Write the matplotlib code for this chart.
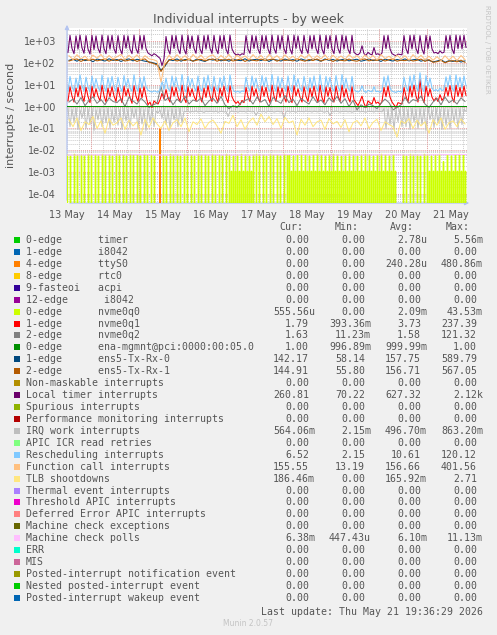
import numpy as np
import matplotlib.pyplot as plt
from matplotlib.patches import Rectangle

W, H = 497, 635

# ---- legend table -------------------------------------------------------
NAMES = [
    "0-edge      timer", "1-edge      i8042", "4-edge      ttyS0",
    "8-edge      rtc0", "9-fasteoi   acpi", "12-edge      i8042",
    "0-edge      nvme0q0", "1-edge      nvme0q1", "2-edge      nvme0q2",
    "0-edge      ena-mgmnt@pci:0000:00:05.0", "1-edge      ens5-Tx-Rx-0",
    "2-edge      ens5-Tx-Rx-1", "Non-maskable interrupts",
    "Local timer interrupts", "Spurious interrupts",
    "Performance monitoring interrupts", "IRQ work interrupts",
    "APIC ICR read retries", "Rescheduling interrupts",
    "Function call interrupts", "TLB shootdowns", "Thermal event interrupts",
    "Threshold APIC interrupts", "Deferred Error APIC interrupts",
    "Machine check exceptions", "Machine check polls", "ERR", "MIS",
    "Posted-interrupt notification event", "Nested posted-interrupt event",
    "Posted-interrupt wakeup event",
]
COLORS = [
    "#00CC00", "#0066B3", "#FF8000", "#FFCC00", "#330099", "#990099",
    "#CCFF00", "#FF0000", "#808080", "#008F00", "#00487D", "#B35A00",
    "#B38F00", "#6B006B", "#8FB300", "#B30000", "#BEBEBE", "#80FF80",
    "#80C9FF", "#FFC080", "#FFE680", "#AA80FF", "#EE00CC", "#FF8080",
    "#666600", "#FFBFFF", "#00FFCC", "#CC6699", "#999900", "#00CC00",
    "#0066B3",
]
CUR = ["0.00", "0.00", "0.00", "0.00", "0.00", "0.00", "555.56u", "1.79",
       "1.63", "1.00", "142.17", "144.91", "0.00", "260.81", "0.00", "0.00",
       "564.06m", "0.00", "6.52", "155.55", "186.46m", "0.00", "0.00",
       "0.00", "0.00", "6.38m", "0.00", "0.00", "0.00", "0.00", "0.00"]
MIN = ["0.00", "0.00", "0.00", "0.00", "0.00", "0.00", "0.00", "393.36m",
       "11.23m", "996.89m", "58.14", "55.80", "0.00", "70.22", "0.00",
       "0.00", "2.15m", "0.00", "2.15", "13.19", "0.00", "0.00", "0.00",
       "0.00", "0.00", "447.43u", "0.00", "0.00", "0.00", "0.00", "0.00"]
AVG = ["2.78u", "0.00", "240.28u", "0.00", "0.00", "0.00", "2.09m", "3.73",
       "1.58", "999.99m", "157.75", "156.71", "0.00", "627.32", "0.00",
       "0.00", "496.70m", "0.00", "10.61", "156.66", "165.92m", "0.00",
       "0.00", "0.00", "0.00", "6.10m", "0.00", "0.00", "0.00", "0.00", "0.00"]
MAX = ["5.56m", "0.00", "480.86m", "0.00", "0.00", "0.00", "43.53m",
       "237.39", "121.32", "1.00", "589.79", "567.05", "0.00", "2.12k",
       "0.00", "0.00", "863.20m", "0.00", "120.12", "401.56", "2.71", "0.00",
       "0.00", "0.00", "0.00", "11.13m", "0.00", "0.00", "0.00", "0.00", "0.00"]

DAY_LABELS = ["13 May", "14 May", "15 May", "16 May", "17 May", "18 May",
              "19 May", "20 May", "21 May"]

# ---- series (hourly samples unless noted) -------------------------------
LOC = [
    300, 1800, 450, 260, 1700, 420, 1850, 480, 270, 1750, 430, 250, 1800, 400, 1700, 460, 280, 1850, 450, 260, 1750, 420, 1800, 430,
    270, 1750, 430, 250, 1800, 460, 1700, 420, 260, 1850, 440, 270, 1750, 410, 1800, 450, 280, 240, 210, 260, 230, 190, 160, 75,
    150, 1600, 420, 250, 1800, 450, 1750, 430, 260, 1850, 420, 250, 1800, 440, 1700, 460, 270, 1800, 430, 260, 1750, 420, 1850, 450,
    270, 1800, 430, 260, 1750, 440, 1800, 420, 250, 1850, 430, 280, 230, 250, 220, 260, 240, 1750, 430, 270, 1800, 450, 1700, 420,
    260, 1800, 440, 1750, 430, 250, 1850, 450, 270, 1800, 420, 1750, 440, 260, 1800, 430, 250, 1850, 450, 1700, 430, 260, 1800, 440,
    270, 1750, 430, 1800, 450, 260, 1850, 420, 250, 1800, 440, 1750, 430, 260, 1800, 450, 270, 1850, 430, 1700, 420, 260, 1800, 300,
    250, 230, 280, 600, 260, 220, 300, 250, 230, 500, 240, 260, 220, 280, 1750, 440, 1800, 430, 260, 230, 210, 250, 240, 230,
    1750, 440, 260, 1800, 430, 1850, 450, 260, 1750, 420, 250, 1800, 440, 1700, 430, 280, 300, 260, 350, 280, 300, 1750, 450, 1800,
    430, 260, 1850, 440, 1750, 430, 1800, 500,
]
RES = [
    5, 24, 8, 5, 20, 7, 28, 9, 5, 22, 8, 4.5, 25, 7, 19, 8, 5, 27, 8, 5, 21, 7, 24, 8,
    5, 22, 8, 4.8, 26, 8, 19, 7, 5, 28, 8, 5, 21, 7, 24, 8, 5.5, 5, 4.6, 5.2, 4.8, 4.5, 6, 14,
    6, 20, 7, 5, 25, 8, 22, 8, 5, 29, 7, 4.6, 24, 8, 19, 8, 5, 25, 7, 5, 22, 7, 27, 8,
    5, 24, 7, 5, 21, 8, 25, 7, 4.7, 28, 8, 5, 4.6, 5, 4.4, 5.2, 4.8, 22, 8, 5, 25, 8, 20, 7,
    5, 26, 8, 22, 7, 4.8, 29, 8, 5, 24, 7, 21, 8, 5, 25, 7, 4.6, 28, 8, 19, 7, 5, 24, 8,
    5, 21, 7, 25, 8, 5, 28, 7, 4.6, 24, 8, 22, 7, 5, 26, 8, 5, 29, 7, 20, 7, 5, 24, 6,
    5, 4.6, 5.2, 9, 5, 4.4, 5.5, 5, 4.7, 8, 4.8, 5, 4.5, 5.3, 23, 8, 26, 7, 5, 4.7, 4.4, 5, 4.8, 4.6,
    22, 8, 5, 25, 7, 28, 8, 5, 35, 7, 4.8, 26, 8, 20, 7, 5.2, 6, 5, 7, 5.4, 6, 23, 8, 27,
    7, 5, 28, 8, 22, 7, 25, 9,
]
NVME0Q1 = [
    1.8, 8, 3, 1.6, 7, 2.8, 9, 3.2, 1.7, 7.5, 2.9, 1.5, 8.5, 2.6, 6.5, 3, 1.8, 9.5, 3.1, 1.6, 7, 2.7, 8, 3,
    1.7, 7.5, 2.8, 1.5, 8.5, 3, 6.5, 2.6, 1.4, 9, 3, 1.7, 7, 2.5, 8, 3.1, 1.2, 1.6, 0.9, 1.8, 1.5, 1.3, 2, 4,
    2.2, 6, 2.5, 1.6, 8, 3, 7.5, 2.8, 1.7, 9.5, 2.6, 1.5, 8, 2.9, 6.5, 3, 1.8, 8.5, 2.7, 1.6, 7, 2.6, 9, 3,
    1.7, 8, 2.7, 1.6, 7, 2.9, 8.5, 2.6, 1.5, 9, 2.8, 1.8, 1.4, 1.7, 1.2, 1.9, 1.5, 7.5, 2.8, 1.7, 8.5, 3, 6.5, 2.6,
    1.6, 8.5, 2.9, 7.5, 2.7, 1.5, 9.5, 3, 1.7, 8, 2.6, 7, 2.9, 1.6, 8.5, 2.7, 1.5, 9, 3, 6.5, 2.7, 1.6, 8, 2.9,
    1.7, 7, 2.7, 8.5, 3, 1.6, 9.5, 2.6, 1.5, 8, 2.9, 7.5, 2.7, 1.6, 8.5, 3, 1.7, 9.5, 2.7, 6.5, 2.6, 1.6, 8, 2,
    1.5, 1.1, 1.7, 3, 1.4, 0.9, 1.8, 1.5, 1.3, 2.6, 1.4, 1.6, 1.2, 1.7, 7.5, 2.8, 8.5, 2.7, 1.6, 1.2, 0.9, 1.5, 1.4, 1.3,
    7.5, 2.9, 1.6, 8.5, 2.7, 9.5, 3, 1.6, 18, 2.6, 1.5, 8.5, 2.9, 6.5, 2.7, 1.8, 2.5, 1.7, 3.5, 1.9, 2.6, 7.5, 3, 9,
    2.7, 1.6, 9.5, 2.9, 7.5, 2.7, 8.5, 3.2,
]
IWI = [
    0.8, 0.12, 0.75, 0.2, 0.85, 0.09, 0.7, 0.3, 0.8, 0.1, 0.78, 0.15, 0.82, 0.08, 0.7, 0.25, 0.8, 0.12, 0.76, 0.18, 0.84, 0.1, 0.72, 0.2,
    0.8, 0.14, 0.74, 0.09, 0.86, 0.22, 0.7, 0.11, 0.8, 0.3, 0.77, 0.1, 0.83, 0.16, 0.72, 0.08, 0.8, 0.2, 0.75, 0.12, 0.62, 0.5, 0.7, 0.3,
    0.82, 0.15, 0.7, 0.1, 0.8, 0.25, 0.76, 0.12, 0.84, 0.18, 0.6, 0.58, 0.62, 0.55, 0.6, 0.57, 0.63, 0.56, 0.6, 0.59, 0.54, 0.61, 0.58, 0.6,
    0.6, 0.57, 0.62, 0.55, 0.59, 0.61, 0.56, 0.6, 0.35, 0.58, 0.62, 0.57, 0.6, 0.55, 0.61, 0.58, 0.6, 0.56, 0.62, 0.59, 0.57, 0.6, 0.4, 0.58,
    0.61, 0.57, 0.6, 0.55, 0.62, 0.58, 0.6, 0.56, 0.59, 0.61, 0.57, 0.6, 0.3, 0.58, 0.62, 0.56, 0.6, 0.59, 0.55, 0.61, 0.58, 0.6, 0.57, 0.62,
    0.58, 0.6, 0.56, 0.61, 0.59, 0.57, 0.62, 0.6, 0.55, 0.58, 0.61, 0.38, 0.6, 0.57, 0.62, 0.59, 0.56, 0.6, 0.58, 0.61, 0.57, 0.6, 0.55, 0.59,
    0.6, 0.62, 0.57, 0.6, 0.58, 0.55, 0.61, 0.59, 0.6, 0.56, 0.62, 0.58, 0.6, 0.57, 0.8, 0.1, 0.75, 0.15, 0.82, 0.09, 0.7, 0.2, 0.78, 0.12,
    0.8, 0.12, 0.75, 0.09, 0.84, 0.2, 0.72, 0.1, 0.8, 0.15, 0.78, 0.08, 0.85, 0.25, 0.7, 0.11, 0.82, 0.18, 0.76, 0.09, 0.8, 0.14, 0.73, 0.1,
    0.83, 0.2, 0.76, 0.1, 0.8, 0.15, 0.74, 0.6,
]
# nvme0q0, half-hour samples, in milli-interrupts per second
NVME0Q0_M = [
    6, 0, 0, 5.5, 0, 0, 0, 6.5, 0, 0, 6, 0, 0, 0, 6, 0, 0, 5.5, 0, 0,
    0, 6.5, 0, 0, 6, 0, 0, 0, 6, 0, 0, 5.5, 0, 0, 0, 6.5, 0, 0, 6, 0,
    0, 0, 6, 0, 0, 5.5, 0, 0, 0, 6.5, 0, 0, 6, 0, 0, 0, 6, 0, 0, 5.5,
    0, 0, 0, 6.5, 0, 0, 6, 0, 0, 0, 6, 0, 0, 5.5, 0, 0, 0, 6.5, 0, 0,
    6, 0, 0, 0, 6, 0, 0, 5.5, 0, 0, 0, 0, 0, 0, 0, 0, 6, 0, 0, 5.5,
    0, 0, 0, 6.5, 0, 0, 6, 0, 0, 0, 6, 0, 0, 5.5, 0, 0, 0, 6.5, 0, 0,
    6, 0, 0, 0, 6, 0, 0, 5.5, 0, 0, 0, 6.5, 0, 0, 6, 0, 0, 0, 6, 0,
    0, 5.5, 0, 0, 0, 6.5, 0, 0, 6, 0, 0, 0, 6, 0, 0, 5.5, 0, 0, 0, 6.5,
    0, 0, 6, 0, 1.1, 0, 5.5, 0, 1.1, 0, 6, 0, 1.1, 0, 6.5, 0, 1.1, 0, 6, 0,
    1.1, 0, 5.5, 0, 1.1, 0, 6, 0, 0, 6.5, 0, 0, 6, 0, 0, 0, 6, 0, 0, 5.5,
    0, 0, 0, 6.5, 0, 0, 6, 0, 0, 0, 6, 0, 0, 5.5, 0, 0, 0, 6.5, 0, 0,
    6, 0, 6, 0, 1.1, 0, 5.5, 0, 1.1, 0, 6, 0, 1.1, 0, 6.5, 0, 1.1, 0, 6, 0,
    1.1, 0, 5.5, 0, 1.1, 0, 6, 0, 1.1, 0, 6.5, 0, 1.1, 0, 6, 0, 1.1, 0, 5.5, 0,
    1.1, 0, 6, 0, 1.1, 0, 6.5, 0, 1.1, 0, 6, 0, 1.1, 0, 5.5, 0, 1.1, 0, 6, 0,
    1.1, 0, 6.5, 0, 1.1, 0, 6, 0, 1.1, 0, 5.5, 0, 1.1, 0, 6, 0, 1.1, 0, 6.5, 0,
    1.1, 0, 6, 0, 1.1, 0, 5.5, 0, 1.1, 0, 6, 0, 1.1, 0, 6.5, 0, 1.1, 0, 6, 0,
    1.1, 0, 5.5, 0, 1.1, 0, 6, 0, 1.1, 0, 0, 0, 0, 0, 0, 0, 6, 0, 0, 5.5,
    0, 0, 0, 6.5, 0, 0, 6, 0, 0, 0, 6, 0, 0, 5.5, 0, 0, 0, 6.5, 0, 0,
    6, 0, 1.1, 0, 5.5, 0, 1.1, 0, 6, 0, 1.1, 0, 6.5, 0, 1.1, 0, 3, 0, 1.1, 0,
    6, 0, 1.1, 0, 5.5, 0, 1.1, 0, 6, 0, 1.1, 0, 6.5, 0, 1.1, 0, 6, 0, 1.1, 0,
]
# two-hour samples
NVME0Q2 = [
    1.6, 2.2, 1.3, 2.6, 1.1, 1.9, 2.8, 1.4, 2.1, 1.2, 2.5, 1.7,
    1.5, 2.3, 1.0, 2.7, 1.8, 1.3, 2.4, 1.6, 0.9, 1.2, 1.4, 8.0,
    1.9, 2.6, 1.2, 2.2, 1.5, 3.0, 1.3, 2.0, 1.7, 2.5, 1.1, 1.8,
    2.4, 1.4, 2.9, 1.2, 0.8, 1.1, 0.9, 1.5, 1.9, 2.3, 1.3, 2.7,
    1.6, 2.1, 1.0, 2.6, 1.8, 1.4, 3.2, 1.5, 2.2, 1.1, 2.4, 1.7,
    1.3, 2.8, 1.5, 2.0, 1.2, 2.5, 1.6, 2.9, 1.4, 2.3, 1.0, 1.9,
    0.7, 1.2, 0.9, 1.3, 1.1, 0.8, 1.4, 2.2, 1.5, 0.7, 0.9, 1.2,
    2.6, 1.4, 2.1, 1.8, 3.0, 1.3, 0.9, 1.6, 2.4, 1.2, 2.7, 1.5,
    2.0, 1.3, 2.5, 1.7,
]
TLB = [
    0.25, 0.12, 0.3, 0.08, 0.2, 0.15, 0.35, 0.1, 0.22, 0.06, 0.28, 0.14,
    0.18, 0.3, 0.09, 0.24, 0.13, 0.2, 0.05, 0.26, 0.11, 0.3, 0.16, 0.1,
    0.22, 0.08, 0.18, 0.25, 0.12, 0.3, 0.07, 0.2, 0.15, 0.27, 0.1, 0.19,
    0.24, 0.13, 0.06, 0.21, 0.17, 0.4, 0.12, 0.25, 0.09, 0.2, 0.3, 0.14,
    0.45, 0.2, 0.35, 0.15, 0.28, 0.1, 0.32, 0.18, 0.22, 0.05, 0.26, 0.14,
    0.3, 0.12, 0.2, 0.24, 0.09, 0.28, 0.16, 0.21, 0.11, 0.25, 0.07, 0.18,
    0.23, 0.13, 0.3, 0.1, 0.19, 0.26, 0.08, 0.2, 0.15, 0.12, 0.04, 0.22,
    0.17, 0.28, 0.1, 0.24, 0.13, 0.2, 0.06, 0.25, 0.14, 0.3, 0.09, 0.18,
    0.22, 0.12, 0.27, 0.16,
]
CAL = [
    210, 140, 235, 150, 200, 130, 225, 160, 240, 135, 215, 150,
    190, 240, 140, 220, 150, 230, 135, 210, 150, 140, 120, 13,
    110, 220, 140, 235, 150, 210, 130, 240, 155, 220, 140, 200,
    230, 140, 215, 150, 240, 135, 220, 160, 205, 140, 235, 150,
    215, 130, 240, 155, 210, 140, 230, 150, 200, 135, 225, 160,
    240, 140, 210, 150, 230, 135, 220, 150, 205, 140, 235, 160,
    210, 140, 230, 150, 215, 135, 240, 155, 200, 140, 225, 150,
    210, 130, 235, 150, 220, 140, 200, 130, 190, 125, 210, 135,
    200, 125, 215, 140,
]
TX0 = [
    130, 145, 118, 150, 125, 140, 112, 148, 135, 120, 152, 128,
    142, 115, 138, 150, 122, 145, 130, 118, 110, 100, 90, 45,
    70, 140, 125, 150, 118, 142, 135, 120, 148, 128, 115, 145,
    132, 150, 122, 140, 118, 146, 130, 125, 152, 120, 138, 144,
    126, 150, 115, 142, 134, 120, 148, 128, 140, 118, 150, 132,
    124, 146, 136, 118, 150, 128, 142, 120, 138, 148, 122, 135,
    145, 118, 130, 150, 125, 140, 115, 148, 132, 120, 142, 128,
    150, 122, 138, 145, 118, 135, 128, 110, 120, 140, 105, 125,
    115, 130, 108, 122,
]
TX1 = [
    120, 138, 150, 115, 142, 128, 146, 122, 135, 150, 118, 140,
    126, 148, 120, 132, 145, 115, 138, 150, 105, 95, 80, 40,
    80, 130, 148, 120, 140, 126, 150, 118, 132, 145, 122, 138,
    150, 118, 140, 128, 146, 120, 135, 150, 115, 142, 130, 122,
    148, 125, 138, 150, 118, 144, 128, 136, 120, 150, 132, 118,
    142, 126, 150, 120, 138, 145, 115, 140, 130, 122, 148, 126,
    118, 140, 150, 122, 136, 128, 146, 120, 138, 150, 118, 132,
    125, 142, 120, 130, 148, 115, 140, 105, 112, 128, 100, 118,
    125, 110, 132, 105,
]
# sparse / nearly flat series (hours, values)
TIMER_T = [46.0, 46.5, 47.0]
TIMER = [0.0, 1.1e-3, 0.0]
TTY_T = [46.0, 46.5, 47.0]
TTYS0 = [0.0, 0.096, 0.0]
ENA_T = [0, 25, 50, 75, 100, 125, 150, 175, 200]
ENA = [1.0, 1.0, 0.997, 1.0, 1.0, 1.0, 1.0, 1.0, 1.0]
MCP_T = [0, 12.5, 25, 37.5, 50, 62.5, 75, 87.5, 100, 112.5, 125, 137.5,
         150, 162.5, 175, 187.5, 200]
MCP = [6.0e-3, 6.2e-3, 6.1e-3, 6.3e-3, 6.0e-3, 6.1e-3, 6.2e-3, 6.0e-3,
       6.1e-3, 6.3e-3, 6.2e-3, 6.0e-3, 6.1e-3, 6.2e-3, 6.0e-3, 6.3e-3, 6.4e-3]

TEXT = "#555555"


def fx(px):
    return px / W


def fy(py):
    return 1 - py / H


fig = plt.figure(figsize=(W / 100, H / 100), dpi=100, facecolor="#F0F0F0")
ax = fig.add_axes([fx(67), fy(203), (467 - 67) / W, (203 - 28) / H])
ax.set_facecolor("white")
ax.set_yscale("log", nonpositive="clip")
ax.set_xlim(0, 200)
ax.set_ylim(10 ** -4.41, 10 ** 3.59)

t_half = np.arange(len(NVME0Q0_M)) * 0.5 + 0.25
t1 = np.arange(len(LOC)) + 0.5
t2 = np.arange(len(CAL)) * 2 + 1.0
series = [
    (0, TIMER_T, TIMER),
    (2, TTY_T, TTYS0),
    (6, t_half, np.array(NVME0Q0_M) * 1e-3),
    (7, t1, NVME0Q1),
    (8, t2, NVME0Q2),
    (9, ENA_T, ENA),
    (10, t2, TX0),
    (11, t2, TX1),
    (13, t1, LOC),
    (16, t1, IWI),
    (18, t1, RES),
    (19, t2, CAL),
    (20, t2, TLB),
    (25, MCP_T, MCP),
]
for z, (idx, t, v) in enumerate(series):
    # the zero-heavy queue series shows as slightly thicker vertical strokes
    lw = 1.0 if idx == 6 else 0.75
    ax.plot(t, v, color=COLORS[idx], lw=lw, zorder=3 + z)

# grid
dot = (0, (1, 1))
ax.set_yticks([10.0 ** e for e in range(-4, 4)],
              ["1e-04", "1e-03", "1e-02", "1e-01", "1e+00", "1e+01", "1e+02", "1e+03"])
ax.yaxis.set_minor_locator(plt.matplotlib.ticker.LogLocator(subs=np.arange(2, 10), numticks=20))
ax.yaxis.set_minor_formatter(plt.NullFormatter())
ax.set_xticks(np.arange(0, 200, 24), DAY_LABELS)
ax.set_xticks(np.arange(0, 200, 6), minor=True)
ax.grid(axis="y", which="minor", color="#CCCCCC", lw=0.7, ls=dot, zorder=1)
ax.grid(axis="x", which="both", color="#CCCCCC", lw=0.7, ls=dot, zorder=1)
ax.grid(axis="y", which="major", color="#E8A0A0", lw=0.7, ls=dot, zorder=2)
for xr in np.arange(12, 200, 24):
    ax.axvline(xr, color="#E8A0A0", lw=0.7, ls=dot, zorder=2)
ax.tick_params(which="both", length=0, labelsize=7, labelcolor=TEXT)
ax.tick_params(axis="y", pad=8)
ax.tick_params(axis="x", pad=5)
for s in ax.spines.values():
    s.set_visible(False)

axis_col = "#B4C4F0"
ax.annotate("", xy=(0, (203 - 22) / 175), xytext=(0, 0), xycoords="axes fraction",
            arrowprops=dict(arrowstyle="-|>", color=axis_col, lw=0.9, mutation_scale=6))
ax.annotate("", xy=((472 - 67) / 400, 0), xytext=(0, 0), xycoords="axes fraction",
            arrowprops=dict(arrowstyle="-|>", color=axis_col, lw=0.9, mutation_scale=6))

fig.text(fx(248), fy(20), "Individual interrupts - by week", ha="center", va="center",
         fontsize=9, color=TEXT)
fig.text(fx(11), fy(115), "interrupts / second", rotation=90, ha="center", va="center",
         fontsize=8, color=TEXT)
fig.text(fx(487), fy(5), "RRDTOOL / TOBI OETIKER", rotation=270, ha="center", va="top",
         fontsize=5, color="#C4C4C4")

# legend
mono = "DejaVu Sans Mono"
fs = 7.1
cw = 5.97
for label, xr in zip(["Cur:", "Min:", "Avg:", "Max:"], [303, 359, 414, 470]):
    fig.text(fx(xr), fy(227), label, ha="right", va="center", family=mono, fontsize=fs, color=TEXT)

for i, name in enumerate(NAMES):
    y = 240 + i * 11.93
    fig.add_artist(Rectangle((fx(14), fy(y + 3)), 6 / W, 6 / H, transform=fig.transFigure,
                             facecolor=COLORS[i], edgecolor="none"))
    fig.text(fx(26), fy(y), name, ha="left", va="center", family=mono, fontsize=fs, color=TEXT)
    for col, xr in zip([CUR, MIN, AVG, MAX], [315, 371, 427, 483]):
        val = col[i]
        right = xr if val[-1].isalpha() else xr - cw
        fig.text(fx(right), fy(y), val, ha="right", va="center", family=mono,
                 fontsize=fs, color=TEXT)

fig.text(fx(483), fy(612), "Last update: Thu May 21 19:36:29 2026", ha="right", va="center",
         family=mono, fontsize=fs, color=TEXT)
fig.text(fx(248), fy(624), "Munin 2.0.57", ha="center", va="center", fontsize=5.5,
         color="#C4C4C4")

fig.savefig("out.png", dpi=100, facecolor=fig.get_facecolor())
